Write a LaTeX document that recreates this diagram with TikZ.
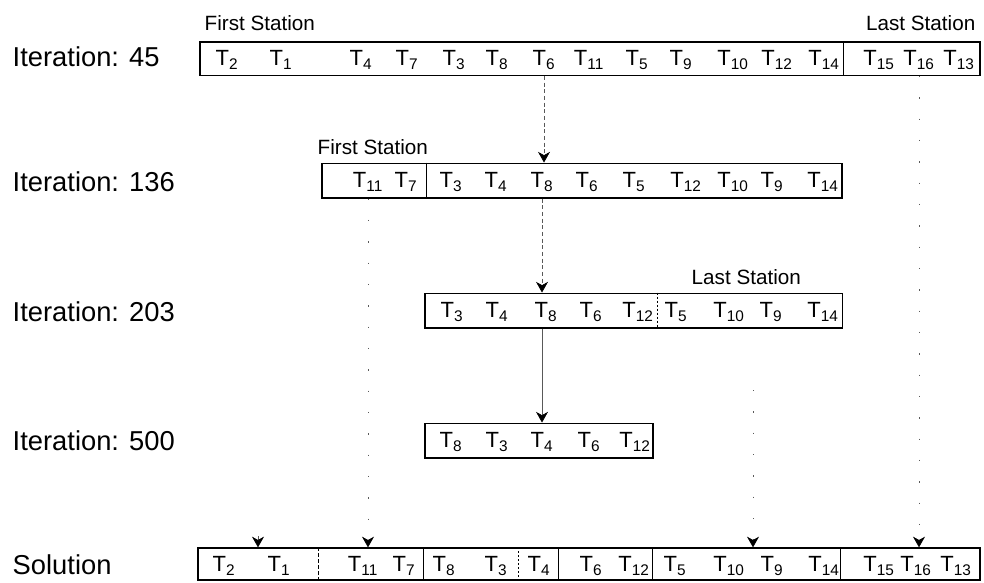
\documentclass[tikz,border=0pt]{standalone}
\usepackage{fontspec}
\setmainfont{Liberation Sans}
\usetikzlibrary{arrows.meta, positioning}

\begin{document}
\begin{tikzpicture}[
    x=0.75pt, y=-0.75pt,
    seq/.style={draw, line width=1pt, inner sep=0pt},
    task/.style={inner sep=0pt, font=\fontsize{16.5}{19}\selectfont},
    iter/.style={anchor=west, font=\fontsize{20.5}{24}\selectfont},
    station/.style={font=\fontsize{15.5}{18}\selectfont},
    sep/.style={line width=0.6pt},
    flow/.style={-{Stealth[length=8pt, width=9pt, inset=2.5pt, color=black]}, line width=0.5pt, black!65},
    trace/.style={flow, dash pattern=on 1pt off 15pt},
    every node/.style={font=\small}
  ]

    %% ═══════════════════════════════════════════════
    %% LAYOUT (pixel grid, 984 x 582, y downwards)
    %%   it45:  x = 200 … 980
    %%   it136: x = 322 … 842
    %%   it203: x = 425 … 842
    %%   it500: x = 425 … 653
    %%   sol:   x = 198 … 980
    %% ═══════════════════════════════════════════════
    \useasboundingbox (0,0) rectangle (984,582);

    %% ── Iteration: 45 ──
    \node[iter] (l45) at (8, 57) {Iteration: 45};
    \node[seq, minimum width=585pt, minimum height=25pt] (it45) at (590, 58.5) {};
    \node[station, anchor=west] (first45) at (200, 23) {First Station};
    \node[station, anchor=east] (last45)  at (980, 23) {Last Station};
    \foreach \x/\k in {227/2, 281/1, 361/4, 407/7, 454/3, 497/8, 544/6, 589/11,
                       637/5, 681/9, 733/10, 777/12, 824/14, 879/15, 919/16, 959/13}
      \node[task] (r1t\k) at (\x, 60) {T\textsubscript{\k}};
    \coordinate (d45) at (843, 0);
    \draw[sep] (d45 |- it45.north) -- (d45 |- it45.south);

    %% ── Iteration: 136 ──
    \node[iter] (l136) at (8, 182) {Iteration: 136};
    \node[seq, minimum width=390pt, minimum height=26pt] (it136) at (582, 180.5) {};
    \node[station, anchor=west] (first136) at (313, 147) {First Station};
    \foreach \x/\k in {368/11, 406/7, 451/3, 496/4, 542/8, 587/6, 634/5,
                       686/12, 733/10, 772/9, 823/14}
      \node[task] (r2t\k) at (\x, 182) {T\textsubscript{\k}};
    \coordinate (d136) at (426, 0);
    \draw[sep] (d136 |- it136.north) -- (d136 |- it136.south);

    %% ── Iteration: 203 ──
    \node[iter] (l203) at (8, 312) {Iteration: 203};
    \node[seq, minimum width=313pt, minimum height=26pt] (it203) at (633.5, 310.5) {};
    \node[station, anchor=west] (last203) at (687, 277) {Last Station};
    \foreach \x/\k in {452/3, 497/4, 546/8, 591/6, 638/12, 676/5, 729/10, 771/9, 823/14}
      \node[task] (r3t\k) at (\x, 312) {T\textsubscript{\k}};
    \coordinate (d203) at (657, 0);
    \draw[sep, dash pattern=on 2pt off 1pt] (d203 |- it203.north) -- (d203 |- it203.south);

    %% ── Iteration: 500 ──
    \node[iter] (l500) at (8, 441) {Iteration: 500};
    \node[seq, minimum width=171pt, minimum height=26pt] (it500) at (539, 440.5) {};
    \foreach \x/\k in {451/8, 497/3, 542/4, 589/6, 635/12}
      \node[task] (r4t\k) at (\x, 442) {T\textsubscript{\k}};

    %% ── Solution ──
    \node[iter] (lsol) at (8, 565) {Solution};
    \node[seq, minimum width=586.5pt, minimum height=24pt] (sol) at (589, 564) {};
    \foreach \x/\k in {224/2, 279/1, 363/11, 404/7, 444/8, 496/3, 539/4, 591/6,
                       634/12, 675/5, 729/10, 772/9, 824/14, 879/15, 916/16, 956/13}
      \node[task] (r5t\k) at (\x, 566) {T\textsubscript{\k}};
    \coordinate (s1) at (318, 0);
    \coordinate (s2) at (423, 0);
    \coordinate (s3) at (518, 0);
    \coordinate (s4) at (558, 0);
    \coordinate (s5) at (652, 0);
    \coordinate (s6) at (840, 0);
    \draw[sep, dash pattern=on 3pt off 1.5pt] (s1 |- sol.north) -- (s1 |- sol.south);
    \draw[sep] (s2 |- sol.north) -- (s2 |- sol.south);
    \draw[sep, dash pattern=on 1pt off 2pt] (s3 |- sol.north) -- (s3 |- sol.south);
    \draw[sep] (s4 |- sol.north) -- (s4 |- sol.south);
    \draw[sep] (s5 |- sol.north) -- (s5 |- sol.south);
    \draw[sep] (s6 |- sol.north) -- (s6 |- sol.south);

    %% ═══════ ARROWS ═══════

    %% 1. 45 → 136 → 203 → 500 (down through T6 / T8)
    \draw[flow, dash pattern=on 3pt off 2pt] (r1t6 |- it45.south) -- (r1t6 |- it136.north);
    \draw[flow, dash pattern=on 3pt off 2pt] (r2t8 |- it136.south) -- (r2t8 |- it203.north);
    \draw[flow] (r2t8 |- it203.south) -- (r2t8 |- it500.north);

    %% 2. stations carried down to the solution
    \draw[trace] (r2t11 |- it136.south) -- (r2t11 |- sol.north);
    \draw[trace] (r1t16 |- it45.south) -- (r1t16 |- sol.north);
    \coordinate (free9) at (753, 390);
    \draw[trace] (free9) -- (free9 |- sol.north);
    \coordinate (free2) at (258, 536);
    \draw[flow] (free2) -- (free2 |- sol.north);

  \end{tikzpicture}
\end{document}
